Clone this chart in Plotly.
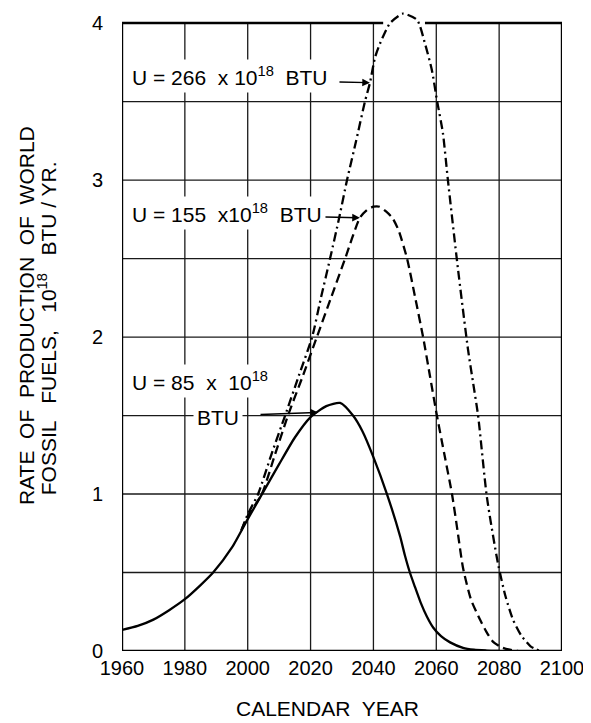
import plotly.graph_objects as go

# ---- data ----
YEAR_TICKS = [1960, 1980, 2000, 2020, 2040, 2060, 2080, 2100]
RATE_TICKS = [0, 1, 2, 3, 4]
RATE_GRID = [0.5, 1.0, 1.5, 2.0, 2.5, 3.0, 3.5]

u85_years = [1960, 1965, 1970, 1975, 1980, 1985, 1989, 1995, 2000, 2005, 2010, 2015,
             2020, 2025, 2029.4, 2033.5, 2036.5, 2039.9, 2044.3, 2048.5, 2050, 2051.6,
             2053, 2055, 2057, 2059, 2061.5, 2064.4, 2068.5, 2072, 2076, 2080]
u85_rate = [0.134, 0.16, 0.20, 0.26, 0.33, 0.42, 0.50, 0.66, 0.84, 1.015, 1.19, 1.36,
            1.49, 1.56, 1.58, 1.50, 1.40, 1.24, 1.0, 0.73, 0.61, 0.50,
            0.42, 0.31, 0.22, 0.15, 0.095, 0.055, 0.02, 0.008, 0.003, 0.0]

u155_years = [1998, 2000, 2004.5, 2008.5, 2012.8, 2017.5, 2022, 2026.5, 2031, 2035.7,
              2038, 2040, 2042, 2044, 2046, 2048, 2050.7, 2053.3, 2055.8, 2058, 2060.2,
              2062.6, 2065, 2066.8, 2068.5, 2071, 2073.9, 2076, 2078, 2080.6, 2083, 2086]
u155_rate = [0.77, 0.86, 1.0, 1.24, 1.5, 1.75, 2.0, 2.25, 2.5, 2.76,
             2.81, 2.83, 2.83, 2.80, 2.76, 2.68, 2.5, 2.25, 2.0, 1.75, 1.5,
             1.25, 1.0, 0.76, 0.53, 0.33, 0.20, 0.12, 0.06, 0.025, 0.01, 0.0]

u266_years = [1998, 2000, 2003.3, 2007.5, 2011.9, 2016.2, 2020.5, 2023.3, 2026.2, 2029,
              2031.6, 2034.5, 2037.3, 2038.9, 2040.5, 2042.1, 2045.3, 2049.4, 2053.9,
              2056.4, 2058.6, 2060.2, 2062.1, 2063.7, 2066.8, 2070.1, 2071.7, 2073.3,
              2076.1, 2079.6, 2082, 2084.4, 2087, 2090, 2093]
u266_rate = [0.77, 0.87, 1.0, 1.25, 1.5, 1.75, 2.0, 2.25, 2.5, 2.75,
             3.0, 3.25, 3.5, 3.62, 3.78, 3.87, 4.0, 4.06, 4.02,
             3.87, 3.70, 3.51, 3.30, 3.0, 2.45, 1.92, 1.71, 1.5,
             0.98, 0.56, 0.35, 0.20, 0.10, 0.03, 0.0]

series = [
    (u85_years, u85_rate, "solid"),
    (u155_years, u155_rate, "9px,5px"),
    (u266_years, u266_rate, "9px,4px,2px,4px"),
]

FONT = "Liberation Sans, Arial, sans-serif"

fig = go.Figure()
for xs, ys, dash in series:
    fig.add_trace(go.Scatter(
        x=xs, y=ys, mode="lines",
        line=dict(color="black", width=2.3, dash=dash, shape="spline", smoothing=0.6),
        hoverinfo="skip", showlegend=False, cliponaxis=False,
    ))

shapes = []
grid_style = dict(color="#1a1a1a", width=1.3)
frame_style = dict(color="black", width=2.4)
x0, x1 = YEAR_TICKS[0], YEAR_TICKS[-1]
ytop = RATE_TICKS[-1]
for yr in YEAR_TICKS[1:-1]:
    shapes.append(dict(type="line", xref="x", yref="y", x0=yr, x1=yr, y0=0, y1=ytop,
                       line=grid_style, layer="below"))
for v in RATE_GRID:
    shapes.append(dict(type="line", xref="x", yref="y", x0=x0, x1=x1, y0=v, y1=v,
                       line=grid_style, layer="below"))
# frame (top edge broken where the U=266 curve rises above it)
for (a, b, c, d) in [(x0, x0, 0, ytop), (x1, x1, 0, ytop), (x0, x1, 0, 0),
                     (x0, 2043.1, ytop, ytop), (2056.4, x1, ytop, ytop)]:
    shapes.append(dict(type="line", xref="x", yref="y", x0=a, x1=b, y0=c, y1=d,
                       line=frame_style, layer="below"))

ann = []
txt_font = dict(family=FONT, size=21, color="black")

def label(x, y, text):
    ann.append(dict(x=x, y=y, xref="x", yref="y", text=text, showarrow=False,
                    xanchor="left", yanchor="middle", font=txt_font,
                    bgcolor="white", borderpad=3))

def label_arrow(x, y, text, hx, hy, gap):
    ann.append(dict(x=hx, y=hy, ax=x, ay=y, xref="x", yref="y", axref="x", ayref="y",
                    text=text, showarrow=True, arrowhead=2, arrowsize=1.1,
                    arrowwidth=1.4, arrowcolor="black", startstandoff=gap,
                    xanchor="left", yanchor="middle", font=txt_font,
                    bgcolor="white", borderpad=3))

label_arrow(1961.9, 3.66, "U = 266  x 10<sup>18</sup>  BTU", 2038.9, 3.62, 8)
label_arrow(1961.9, 2.79, "U = 155  x10<sup>18</sup>  BTU", 2035.7, 2.76, 0)
label(1961.9, 1.72, "U = 85  x  10<sup>18</sup>")
label_arrow(1982.6, 1.49, "BTU", 2022.4, 1.52, 18)

# axis titles
ann.append(dict(xref="paper", yref="paper", x=0, y=0.521, xshift=-95, showarrow=False,
                text="RATE  OF  PRODUCTION  OF  WORLD", textangle=-90,
                xanchor="center", yanchor="middle",
                font=dict(family=FONT, size=21, color="black")))
ann.append(dict(xref="paper", yref="paper", x=0, y=0.502, xshift=-75, showarrow=False,
                text="FOSSIL   FUELS,   10<sup>18</sup>   BTU / YR.", textangle=-90,
                xanchor="center", yanchor="middle",
                font=dict(family=FONT, size=21, color="black")))
ann.append(dict(xref="paper", yref="paper", x=0.466, y=0, yshift=-57, showarrow=False,
                text="CALENDAR  YEAR", xanchor="center", yanchor="middle",
                font=dict(family=FONT, size=21, color="black")))

# the page body has an 8px margin; the figure is sized so the plot lands where the reference has it
fig.update_layout(
    width=583, height=715,
    margin=dict(l=114, r=29, t=0, b=72),
    paper_bgcolor="white", plot_bgcolor="white",
    shapes=shapes, annotations=ann,
    font=dict(family=FONT, color="black"),
    xaxis=dict(range=[x0, x1], tickvals=YEAR_TICKS, showgrid=False, zeroline=False,
               showline=False, ticks="", ticklabelstandoff=3,
               tickfont=dict(family=FONT, size=20, color="black"), fixedrange=True),
    yaxis=dict(range=[0, 4.096], tickvals=RATE_TICKS, showgrid=False, zeroline=False,
               showline=False, ticks="", ticklabelstandoff=18,
               tickfont=dict(family=FONT, size=20, color="black"), fixedrange=True),
)

fig.write_html("out.html")
